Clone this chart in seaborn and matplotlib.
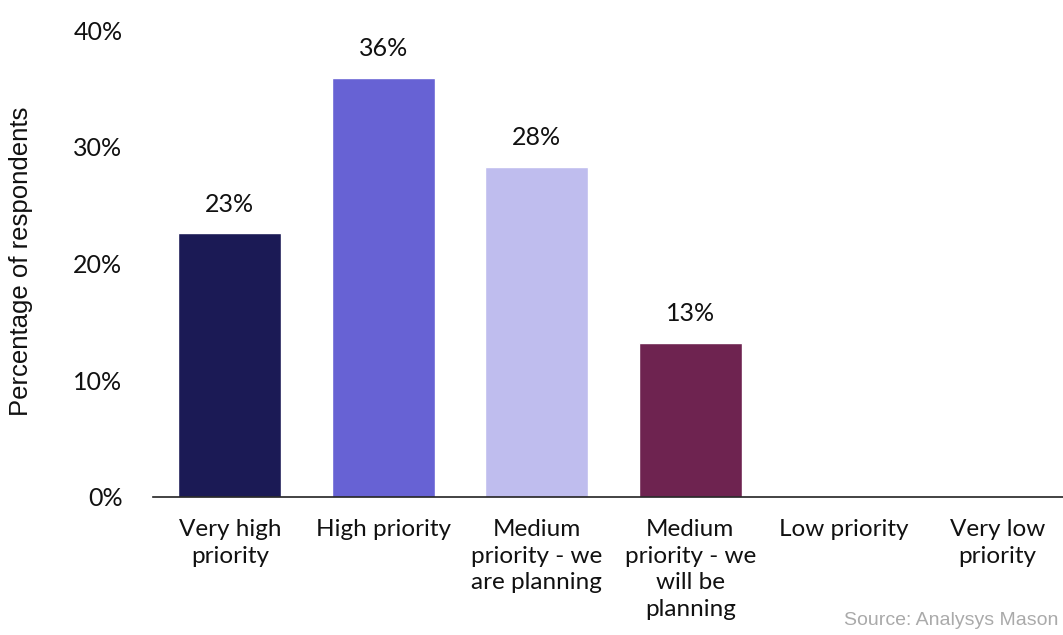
import matplotlib
matplotlib.use("Agg")
import matplotlib.pyplot as plt
import seaborn as sns
import pandas as pd

categories = ["Very high\npriority", "High priority", "Medium\npriority - we\nare planning",
              "Medium\npriority - we\nwill be\nplanning", "Low priority", "Very low\npriority"]
values = [22.6, 35.9, 28.3, 13.2, 0.0, 0.0]
labels = ["23%", "36%", "28%", "13%", "", ""]
colors = ["#1B1A55", "#6762D4", "#BFBDEE", "#6E2350", "#999999", "#999999"]
yticks = [0, 10, 20, 30, 40]
yticklabels = ["0%", "10%", "20%", "30%", "40%"]

sns.set_theme(style="white")
plt.rcParams['font.family'] = ['Lato', 'DejaVu Sans']

df = pd.DataFrame({"cat": categories, "val": values})

fig = plt.figure(figsize=(10.63, 6.35), dpi=100)
ax = fig.add_axes([153/1063, 1 - 497/635, (1074 - 153)/1063, (497 - 30)/635])
sns.barplot(data=df, x="cat", y="val", hue="cat", palette=colors, legend=False,
            width=0.67, ax=ax, saturation=1)

ax.set_ylim(0, 40)
ax.set_xlim(-0.5, 5.5)
ax.set_yticks(yticks)
ax.set_yticklabels(yticklabels, fontsize=18, color="#111111")
ax.tick_params(axis='x', labelsize=17.5, colors="#111111", pad=16, length=0)
ax.tick_params(axis='y', length=0, pad=22)
for lab in ax.get_xticklabels():
    lab.set_linespacing(1.32)
ax.set_xlabel("")
ax.set_ylabel("Percentage of respondents", fontsize=18.5, family="Liberation Sans",
              color="#111111")
ax.yaxis.set_label_coords(-0.130, 0.505)
for s in ["top", "right", "left"]:
    ax.spines[s].set_visible(False)
ax.spines["bottom"].set_color("#222222")
ax.spines["bottom"].set_linewidth(1.2)

for i, (v, t) in enumerate(zip(values, labels)):
    if t:
        ax.text(i, v + 1.5, t, ha="center", va="bottom", fontsize=18, color="#111111")

fig.text(1058/1063, 1 - 612/635, "Source: Analysys Mason", fontsize=14, color="#AAAAAA",
         family="Liberation Sans", ha="right", va="top")

fig.savefig("out.png", dpi=100)
